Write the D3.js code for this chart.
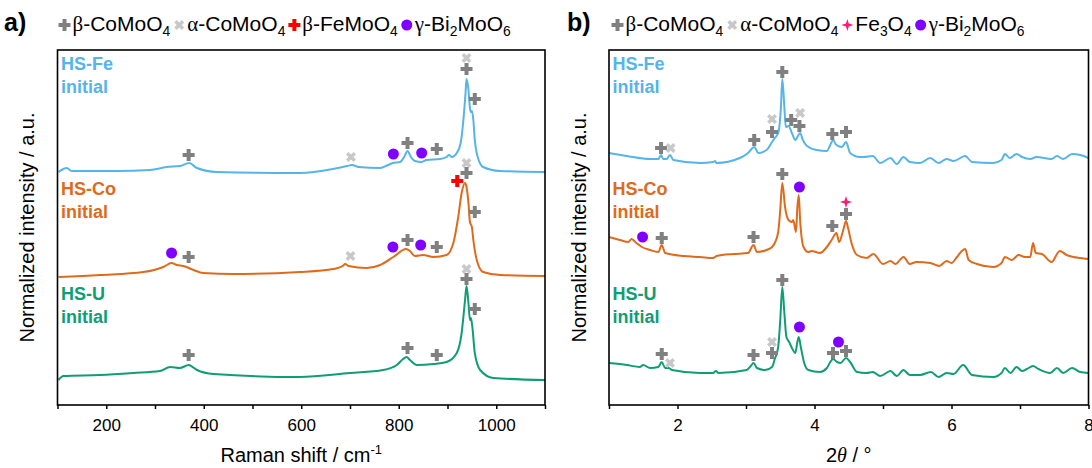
<!DOCTYPE html>
<html>
<head>
<meta charset="utf-8">
<script src="https://cdn.jsdelivr.net/npm/d3@7"></script>
<style>
  body { margin: 0; background: #fff; }
  svg { display: block; }
  text { font-family: "Liberation Sans", Arial, sans-serif; fill: #000; }
</style>
</head>
<body>
<div id="chart"></div>
<script>
const sampleNames = ['HS-Fe', 'HS-Co', 'HS-U'];
const sampleColors = ['#56b4e9', '#e06a1b', '#0f9e74'];
const sampleOffsets = [2.26, 1.21, 0.21];

// Raman spectra: [shift / cm-1, normalized intensity]
const ramanFe = [[102,0.07],[119,0.11],[129,0.08],[160,0.08],[221,0.08],[290,0.09],[324,0.12],[351,0.13],[370,0.16],[386,0.11],[427,0.07],[597,0.06],[665,0.10],[694,0.13],[704,0.14],[718,0.12],[762,0.11],[778,0.14],[788,0.16],[803,0.17],[811,0.22],[818,0.28],[825,0.22],[833,0.18],[847,0.17],[857,0.19],[885,0.20],[898,0.22],[903,0.24],[909,0.22],[919,0.26],[927,0.36],[932,0.56],[937,0.86],[939,1.0],[943,0.89],[946,0.71],[948,0.67],[950,0.68],[953,0.59],[956,0.39],[962,0.22],[973,0.12],[1008,0.08],[1100,0.07]];
const ramanCo = [[102,0.07],[187,0.09],[276,0.12],[317,0.17],[334,0.21],[345,0.19],[358,0.18],[379,0.14],[399,0.11],[461,0.10],[597,0.12],[666,0.15],[685,0.18],[690,0.20],[697,0.18],[734,0.16],[762,0.19],[789,0.27],[815,0.35],[823,0.33],[833,0.28],[850,0.29],[871,0.27],[898,0.29],[912,0.41],[922,0.67],[929,0.91],[936,1.01],[939,0.97],[943,0.81],[946,0.62],[950,0.57],[953,0.44],[960,0.24],[973,0.12],[1008,0.09],[1100,0.08]];
const ramanU = [[102,0.04],[112,0.08],[187,0.09],[255,0.11],[310,0.13],[331,0.17],[351,0.16],[369,0.19],[386,0.14],[420,0.10],[597,0.07],[700,0.11],[768,0.14],[796,0.19],[809,0.25],[816,0.27],[823,0.24],[837,0.19],[871,0.20],[898,0.22],[919,0.31],[929,0.51],[936,0.84],[939,0.98],[943,0.81],[946,0.64],[948,0.66],[951,0.57],[956,0.31],[967,0.14],[994,0.06],[1100,0.04]];

// XRD patterns: [2theta / deg, normalized intensity]
const xrdFe = [[1.0,0.26],[1.26,0.23],[1.6,0.2],[1.72,0.2],[1.76,0.24],[1.79,0.2],[1.84,0.2],[1.89,0.24],[1.94,0.19],[2.33,0.16],[2.52,0.17],[2.55,0.18],[2.57,0.16],[2.91,0.21],[3.03,0.26],[3.12,0.32],[3.18,0.26],[3.3,0.29],[3.38,0.37],[3.42,0.41],[3.47,0.46],[3.51,0.72],[3.53,1.0],[3.56,0.72],[3.58,0.52],[3.62,0.53],[3.67,0.46],[3.72,0.39],[3.75,0.42],[3.79,0.46],[3.83,0.39],[3.89,0.33],[4.03,0.29],[4.18,0.28],[4.23,0.34],[4.27,0.39],[4.32,0.34],[4.4,0.32],[4.46,0.37],[4.52,0.26],[4.66,0.22],[4.71,0.22],[4.85,0.23],[4.96,0.16],[5.11,0.21],[5.2,0.15],[5.3,0.22],[5.39,0.17],[5.54,0.16],[5.69,0.21],[5.81,0.16],[5.93,0.2],[6.03,0.18],[6.2,0.23],[6.3,0.17],[6.61,0.16],[6.73,0.19],[6.78,0.25],[6.85,0.21],[6.95,0.25],[7.03,0.22],[7.15,0.2],[7.24,0.22],[7.46,0.2],[7.54,0.23],[7.63,0.2],[7.76,0.25],[7.88,0.24],[8.0,0.21]];
const xrdCo = [[1.0,0.47],[1.16,0.44],[1.28,0.42],[1.33,0.45],[1.4,0.41],[1.48,0.37],[1.6,0.34],[1.72,0.32],[1.77,0.39],[1.82,0.31],[2.09,0.28],[2.33,0.27],[2.52,0.26],[2.57,0.28],[2.82,0.3],[3.03,0.31],[3.11,0.39],[3.16,0.32],[3.3,0.34],[3.38,0.37],[3.42,0.41],[3.47,0.52],[3.5,0.74],[3.53,1.01],[3.57,0.77],[3.62,0.64],[3.67,0.62],[3.69,0.64],[3.73,0.52],[3.75,0.77],[3.77,0.89],[3.79,0.64],[3.84,0.37],[3.91,0.32],[3.96,0.33],[4.08,0.31],[4.18,0.37],[4.25,0.44],[4.32,0.51],[4.36,0.42],[4.42,0.54],[4.46,0.63],[4.49,0.56],[4.54,0.41],[4.62,0.29],[4.76,0.26],[4.86,0.3],[5.0,0.2],[5.11,0.23],[5.18,0.2],[5.3,0.27],[5.39,0.2],[5.49,0.22],[5.69,0.21],[5.82,0.18],[5.93,0.23],[6.0,0.21],[6.08,0.27],[6.15,0.33],[6.2,0.35],[6.25,0.24],[6.37,0.2],[6.61,0.17],[6.73,0.21],[6.78,0.27],[6.88,0.24],[6.98,0.29],[7.07,0.27],[7.15,0.27],[7.19,0.41],[7.23,0.31],[7.32,0.3],[7.46,0.22],[7.58,0.33],[7.68,0.29],[7.78,0.27],[7.88,0.26],[8.0,0.25]];
const xrdU = [[1.0,0.21],[1.26,0.19],[1.45,0.17],[1.5,0.19],[1.6,0.16],[1.72,0.17],[1.77,0.22],[1.82,0.16],[1.87,0.16],[1.92,0.14],[2.33,0.11],[2.52,0.11],[2.56,0.13],[2.6,0.11],[3.01,0.14],[3.07,0.18],[3.11,0.21],[3.16,0.16],[3.28,0.14],[3.38,0.17],[3.42,0.25],[3.47,0.37],[3.5,0.64],[3.53,0.97],[3.56,0.71],[3.59,0.47],[3.63,0.42],[3.67,0.36],[3.72,0.31],[3.75,0.42],[3.77,0.47],[3.8,0.37],[3.85,0.21],[3.91,0.14],[4.08,0.12],[4.18,0.16],[4.23,0.22],[4.27,0.25],[4.33,0.22],[4.38,0.21],[4.46,0.26],[4.52,0.22],[4.62,0.12],[4.76,0.11],[4.85,0.12],[4.96,0.08],[5.11,0.13],[5.2,0.08],[5.3,0.14],[5.39,0.09],[5.54,0.09],[5.7,0.12],[5.81,0.07],[5.93,0.11],[6.03,0.1],[6.17,0.19],[6.3,0.09],[6.61,0.07],[6.73,0.11],[6.78,0.16],[6.86,0.11],[6.95,0.17],[7.03,0.13],[7.1,0.15],[7.19,0.18],[7.27,0.15],[7.44,0.11],[7.54,0.16],[7.63,0.11],[7.76,0.16],[7.88,0.12],[8.0,0.11]];

// phase markers: [x, stacked intensity, phase]
const ramanMarks = [
  [369,2.50,'beta'],[702,2.48,'alpha'],[789,2.51,'bi'],[818,2.62,'beta'],[847,2.52,'bi'],[878,2.56,'beta'],[939,3.47,'alpha'],[939,3.36,'beta'],[956,3.06,'beta'],
  [334,1.52,'bi'],[369,1.48,'beta'],[701,1.49,'alpha'],[788,1.58,'bi'],[818,1.65,'beta'],[845,1.60,'bi'],[878,1.58,'beta'],[939,2.42,'alpha'],[939,2.32,'beta'],[920,2.24,'feMo'],[956,1.93,'beta'],
  [369,0.50,'beta'],[818,0.57,'beta'],[878,0.50,'beta'],[939,1.36,'alpha'],[939,1.26,'beta'],[956,0.96,'beta']
];
const xrdMarks = [
  [1.76,2.57,'beta'],[1.9,2.57,'alpha'],[3.12,2.65,'beta'],[3.38,2.86,'alpha'],[3.38,2.73,'beta'],[3.53,3.33,'beta'],[3.66,2.85,'beta'],[3.79,2.92,'alpha'],[3.78,2.79,'beta'],[4.26,2.71,'beta'],[4.46,2.73,'beta'],
  [3.53,2.31,'beta'],[3.78,2.18,'bi'],[4.46,2.03,'fe3o4'],[4.46,1.91,'beta'],[4.26,1.79,'beta'],[1.49,1.68,'bi'],[1.77,1.67,'beta'],[3.11,1.68,'beta'],
  [3.53,1.25,'beta'],[3.78,0.78,'bi'],[3.38,0.63,'alpha'],[3.38,0.52,'beta'],[3.11,0.50,'beta'],[1.77,0.51,'beta'],[1.89,0.42,'alpha'],[4.35,0.63,'bi'],[4.27,0.52,'beta'],[4.46,0.54,'beta']
];

const legendA = ['beta', 'alpha', 'feMo', 'bi'];
const legendB = ['beta', 'alpha', 'fe3o4', 'bi'];
const phaseLabels = {
  beta: [['β', 'g'], ['-CoMoO'], ['4', 'sub']],
  alpha: [['α', 'g'], ['-CoMoO'], ['4', 'sub']],
  feMo: [['β', 'g'], ['-FeMoO'], ['4', 'sub']],
  fe3o4: [['Fe'], ['3', 'sub'], ['O'], ['4', 'sub']],
  bi: [['γ', 'g'], ['-Bi'], ['2', 'sub'], ['MoO'], ['6', 'sub']]
};

const ramanTicks = d3.range(100, 1101, 100);
const xrdTicks = d3.range(1, 9, 1);

const W = 1092, H = 468;
const svg = d3.select('#chart').append('svg').attr('width', W).attr('height', H);

// 4-pointed star for Fe3O4
const star4 = {
  draw(ctx, size) {
    const r = Math.sqrt(size) * 0.7, ri = r * 0.33;
    for (let i = 0; i < 8; i++) {
      const a = i * Math.PI / 4 - Math.PI / 2;
      const rr = i % 2 ? ri : r;
      if (i) ctx.lineTo(rr * Math.cos(a), rr * Math.sin(a));
      else ctx.moveTo(rr * Math.cos(a), rr * Math.sin(a));
    }
    ctx.closePath();
  }
};

const phaseStyle = {
  beta: { color: '#808080', type: d3.symbolCross, size: 80, rot: 0 },
  alpha: { color: '#c8c8c8', type: d3.symbolCross, size: 62, rot: 45 },
  feMo: { color: '#ff0000', type: d3.symbolCross, size: 80, rot: 0 },
  bi: { color: '#7f00ff', type: d3.symbolCircle, size: 95, rot: 0 },
  fe3o4: { color: '#ff1a75', type: star4, size: 75, rot: 0 }
};

function drawMark(g, x, y, phase) {
  const s = phaseStyle[phase];
  g.append('path')
    .attr('d', d3.symbol().type(s.type).size(s.size)())
    .attr('transform', `translate(${x},${y}) rotate(${s.rot})`)
    .attr('fill', s.color);
}

function writeLabel(textSel, segs, fs) {
  let shifted = false;
  segs.forEach(([t, kind]) => {
    const ts = textSel.append('tspan').text(t);
    if (kind === 'sub') {
      ts.attr('font-size', fs * 0.66).attr('dy', shifted ? 0 : 5);
      shifted = true;
    } else {
      if (shifted) ts.attr('dy', -5);
      shifted = false;
      if (kind === 'g') ts.style('font-family', '"Liberation Serif", serif');
    }
  });
}

function drawLegend(keys, x0, y0) {
  const g = svg.append('g');
  let x = x0;
  keys.forEach(k => {
    drawMark(g, x, y0 - 6, k);
    const t = g.append('text').attr('x', x + 8).attr('y', y0).attr('font-size', 21);
    writeLabel(t, phaseLabels[k], 21);
    x = x + 8 + t.node().getComputedTextLength() + 9;
  });
}

function drawPanel(cfg) {
  const x = d3.scaleLinear().domain(cfg.domain).range(cfg.xRange);
  const y = d3.scaleLinear().domain([0, 3.55]).range([405, 50]);
  const g = svg.append('g');

  const axis = d3.axisBottom(x).tickValues(cfg.ticks).tickSize(4).tickPadding(10)
    .tickFormat(cfg.fmt);
  const ax = g.append('g').attr('transform', `translate(0,${y(0)})`).call(axis);
  ax.select('.domain').remove();
  ax.selectAll('line').attr('stroke', '#000').attr('stroke-width', 1.5);
  ax.selectAll('text').attr('font-size', 17).style('font-family', '"Liberation Sans", Arial, sans-serif');

  const line = d3.line().x(d => x(d[0])).curve(d3.curveMonotoneX);
  cfg.series.forEach((s, i) => {
    g.append('path')
      .datum(s)
      .attr('fill', 'none')
      .attr('stroke', sampleColors[i])
      .attr('stroke-width', 2)
      .attr('d', line.y(d => y(d[1] + sampleOffsets[i])));
  });

  cfg.marks.forEach(m => drawMark(g, x(m[0]), y(m[1]), m[2]));

  g.append('rect')
    .attr('x', cfg.xRange[0]).attr('y', y(3.55))
    .attr('width', cfg.xRange[1] - cfg.xRange[0]).attr('height', y(0) - y(3.55))
    .attr('fill', 'none').attr('stroke', '#000').attr('stroke-width', 1.6);

  // sample names
  const lx = cfg.xRange[0] + 3.5;
  [[69.5, 92.7], [195, 217.5], [300, 323.3]].forEach((b, i) => {
    g.append('text').attr('x', lx).attr('y', b[0]).attr('font-size', 18).attr('font-weight', 'bold')
      .style('fill', sampleColors[i]).text(sampleNames[i]);
    g.append('text').attr('x', lx).attr('y', b[1]).attr('font-size', 18).attr('font-weight', 'bold')
      .style('fill', sampleColors[i]).text('initial');
  });

  g.append('text')
    .attr('transform', `translate(${cfg.yTitleX},227.5) rotate(-90)`)
    .attr('text-anchor', 'middle').attr('dy', '0.35em').attr('font-size', 20)
    .text('Normalized intensity / a.u.');

  const xt = g.append('text').attr('x', (cfg.xRange[0] + cfg.xRange[1]) / 2).attr('y', 462)
    .attr('text-anchor', 'middle').attr('font-size', 20);
  cfg.xTitle(xt);

  svg.append('text').attr('x', cfg.letterX).attr('y', 31).attr('font-size', 25)
    .attr('font-weight', 'bold').text(cfg.letter);
}

drawPanel({
  domain: [100, 1100], xRange: [57.5, 545], ticks: ramanTicks,
  fmt: d => (d % 200 === 0 ? d : ''),
  series: [ramanFe, ramanCo, ramanU], marks: ramanMarks,
  yTitleX: 27, letter: 'a)', letterX: 4,
  xTitle: t => {
    t.append('tspan').text('Raman shift / cm');
    t.append('tspan').attr('font-size', 13).attr('dy', -8).text('-1');
  }
});

drawPanel({
  domain: [1, 8], xRange: [609, 1088.5], ticks: xrdTicks,
  fmt: d => (d % 2 === 0 ? d : ''),
  series: [xrdFe, xrdCo, xrdU], marks: xrdMarks,
  yTitleX: 579, letter: 'b)', letterX: 567,
  xTitle: t => {
    t.append('tspan').text('2');
    t.append('tspan').style('font-family', '"Liberation Serif", serif').attr('font-style', 'italic').text('θ');
    t.append('tspan').text(' / °');
  }
});

drawLegend(legendA, 64.5, 31);
drawLegend(legendB, 617.5, 31);
</script>
</body>
</html>
